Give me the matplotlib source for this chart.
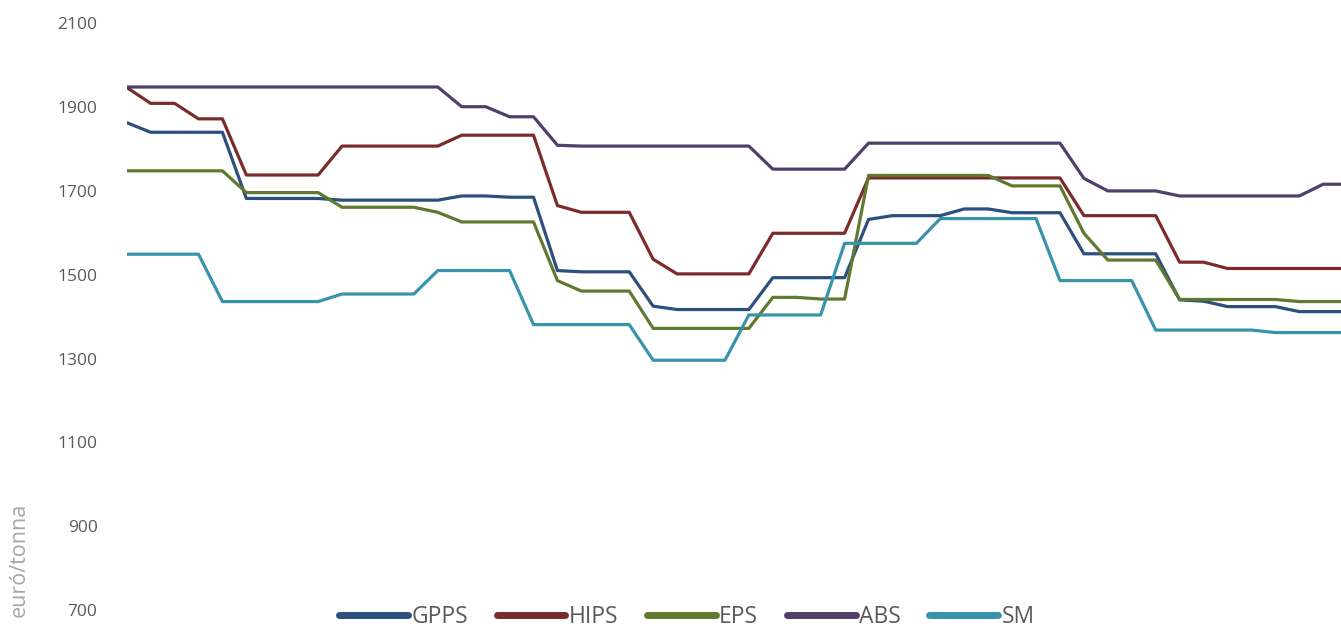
import matplotlib
matplotlib.use("Agg")
import matplotlib.pyplot as plt
from matplotlib.lines import Line2D
import numpy as np

# ---- data (euró/tonna), one value per period ----
series_names = ["GPPS", "HIPS", "EPS", "ABS", "SM"]

gpps = [1863, 1840, 1840, 1840, 1840, 1682, 1682, 1682, 1682, 1678,
        1678, 1678, 1678, 1678, 1688, 1688, 1685, 1685, 1510, 1507,
        1507, 1507, 1425, 1417, 1417, 1417, 1417, 1493, 1493, 1493,
        1493, 1632, 1641, 1641, 1641, 1657, 1657, 1648, 1648, 1648,
        1550, 1550, 1550, 1550, 1440, 1437, 1424, 1424, 1424, 1412,
        1412, 1412]
hips = [1947, 1909, 1909, 1872, 1872, 1738, 1738, 1738, 1738, 1807,
        1807, 1807, 1807, 1807, 1833, 1833, 1833, 1833, 1665, 1649,
        1649, 1649, 1537, 1502, 1502, 1502, 1502, 1599, 1599, 1599,
        1599, 1731, 1731, 1731, 1731, 1731, 1731, 1731, 1731, 1731,
        1641, 1641, 1641, 1641, 1530, 1530, 1515, 1515, 1515, 1515,
        1515, 1515]
eps = [1748, 1748, 1748, 1748, 1748, 1696, 1696, 1696, 1696, 1661,
       1661, 1661, 1661, 1649, 1626, 1626, 1626, 1626, 1486, 1461,
       1461, 1461, 1372, 1372, 1372, 1372, 1372, 1446, 1446, 1442,
       1442, 1737, 1737, 1737, 1737, 1737, 1737, 1712, 1712, 1712,
       1599, 1535, 1535, 1535, 1441, 1441, 1441, 1441, 1441, 1436,
       1436, 1436]
abs_ = [1948, 1948, 1948, 1948, 1948, 1948, 1948, 1948, 1948, 1948,
        1948, 1948, 1948, 1948, 1901, 1901, 1877, 1877, 1809, 1807,
        1807, 1807, 1807, 1807, 1807, 1807, 1807, 1752, 1752, 1752,
        1752, 1814, 1814, 1814, 1814, 1814, 1814, 1814, 1814, 1814,
        1730, 1700, 1700, 1700, 1688, 1688, 1688, 1688, 1688, 1688,
        1716, 1716]
sm = [1549, 1549, 1549, 1549, 1436, 1436, 1436, 1436, 1436, 1454,
      1454, 1454, 1454, 1510, 1510, 1510, 1510, 1381, 1381, 1381,
      1381, 1381, 1296, 1296, 1296, 1296, 1404, 1404, 1404, 1404,
      1575, 1575, 1575, 1575, 1634, 1634, 1634, 1634, 1634, 1486,
      1486, 1486, 1486, 1368, 1368, 1368, 1368, 1368, 1362, 1362,
      1362, 1362]

y_ticks = [700, 900, 1100, 1300, 1500, 1700, 1900, 2100]
y_label = "euró/tonna"

colors = ["#2c4f7e", "#7b2b2b", "#5f7a2f", "#4f3f6b", "#3893ac"]
all_series = [gpps, hips, eps, abs_, sm]

# ---- figure ----
W, H = 1341, 630
fig = plt.figure(figsize=(W / 100, H / 100), dpi=100)
left_px, right_px = 126.7, 1341
top_px, bot_px = 23.3, 610
ax = fig.add_axes([left_px / W, 1 - bot_px / H,
                   (right_px - left_px) / W, (bot_px - top_px) / H])

x = np.arange(len(gpps))
for vals, c in zip(all_series, colors):
    ax.plot(x, vals, color=c, lw=2.3, solid_joinstyle="round", zorder=3)

ax.set_xlim(0, (right_px - left_px) / 23.93)
ax.set_ylim(700, 2100)
ax.set_yticks(y_ticks)
ax.set_yticklabels([str(t) for t in y_ticks])
ax.set_xticks([])
for s in ax.spines.values():
    s.set_visible(False)
ax.tick_params(axis="y", length=0, pad=21, labelsize=12.5, labelcolor="#595959")
for lab in ax.get_yticklabels():
    lab.set_fontfamily("Open Sans")

fig.text(19 / W, 1 - 560 / H, y_label, rotation=90, ha="center", va="center",
         fontsize=15.5, color="#a6a6a6", family="Open Sans")

handles = [Line2D([0], [0], color=c, lw=5, solid_capstyle="round") for c in colors]
leg = fig.legend(handles, series_names, loc="center", ncol=5, frameon=False,
                 bbox_to_anchor=(687 / W, 1 - 617 / H),
                 prop={"family": "Open Sans", "size": 16.5},
                 handlelength=3.0, handletextpad=0.15, columnspacing=1.25,
                 borderpad=0, borderaxespad=0)
for t in leg.get_texts():
    t.set_color("#595959")

fig.savefig("out.png", dpi=100)
